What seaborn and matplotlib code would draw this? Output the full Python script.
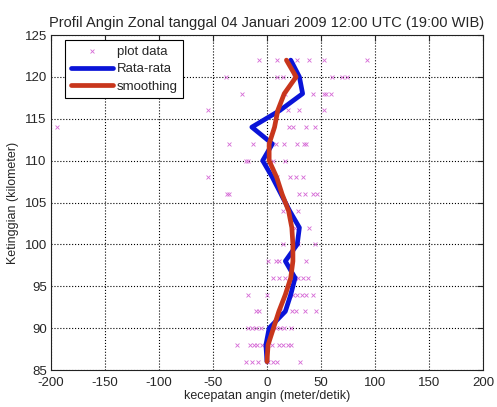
import numpy as np
import pandas as pd
import matplotlib
matplotlib.use("Agg")
import matplotlib.pyplot as plt
import seaborn as sns

# --- Data ---
HEIGHTS = [122, 120, 118, 116, 114, 112, 110, 108, 106, 104, 102, 100, 98, 96, 94, 92, 90, 88, 86]

# raw observations (wind speed, m/s) for each height level
RAW_SPEEDS = [
    [-7, 9, 28, 39, 53, 93],
    [-38, 9, 15, 25, 60, 69, 74],
    [-23, 17, 43, 53, 55, 59],
    [-55, 19, 30, 53],
    [-194, 20, 24, 36, 44],
    [-35, -13, 8, 16, 28, 34, 36],
    [-19, -18, 6, 17],
    [-55, 9, 21, 27, 33],
    [-37, -35, 30, 35, 43, 46],
    [15, 29],
    [26, 39],
    [15, 29, 44],
    [1, 8, 11, 36],
    [6, 11, 17, 26, 29, 33, 38],
    [-18, 0, 21, 24, 28, 32, 36, 43],
    [-10, -7, 12, 23, 27, 35, 45],
    [-18, -14, -10, -6, 8, 12, 16, 22],
    [-28, -16, -12, -9, -5, 5, 11, 15, 19, 22],
    [-19, -14, -8, 1, 6, 9, 31],
]

MEAN_SPEED = [22, 30, 33, 12, -14, 5, -4, 5, 13, 21, 30, 28, 17, 26, 22, 17, 2, -1, 0]
SMOOTH_SPEED = [18, 27, 16, 10, 7, 2, 2, 9, 14, 20, 23, 24, 24, 22, 17, 11, 6, 1, 0]

X_TICKS = [-200, -150, -100, -50, 0, 50, 100, 150, 200]
Y_TICKS = [85, 90, 95, 100, 105, 110, 115, 120, 125]

TITLE = "Profil Angin Zonal tanggal 04 Januari 2009 12:00 UTC (19:00 WIB)"

sns.set_style("white")
plt.rcParams['font.family'] = ['Liberation Sans', 'DejaVu Sans']
plt.rcParams['axes.unicode_minus'] = False

# long-form table of the raw points
raw_df = pd.DataFrame(
    [(s, h) for h, row in zip(HEIGHTS, RAW_SPEEDS) for s in row],
    columns=['speed', 'height'])
prof_df = pd.DataFrame({'height': HEIGHTS, 'mean': MEAN_SPEED, 'smooth': SMOOTH_SPEED})

fig = plt.figure(figsize=(4.97, 4.07), dpi=100)
ax = fig.add_axes([0.1026, 0.0909, 0.8692, 0.8231])

sns.scatterplot(data=raw_df, x='speed', y='height', ax=ax, marker='x',
                color='#d66ad6', s=8, linewidth=0.6, label='plot data', zorder=2)
sns.lineplot(data=prof_df, x='mean', y='height', ax=ax, orient='y', estimator=None,
             color='#0a14d8', linewidth=3.4, label='Rata-rata', zorder=3)
sns.lineplot(data=prof_df, x='smooth', y='height', ax=ax, orient='y', estimator=None,
             color='#c8361c', linewidth=3.4, label='smoothing', zorder=4)

ax.set_xlim(-200, 200)
ax.set_ylim(85, 125)
ax.set_xticks(X_TICKS)
ax.set_yticks(Y_TICKS)
ax.tick_params(direction='in', top=True, right=True, labelsize=9.5, length=4, width=0.8, pad=3)
ax.tick_params(axis='x', pad=5)
ax.grid(True, linestyle=':', color='black', linewidth=0.8)
for sp in ax.spines.values():
    sp.set_color('#222222')
    sp.set_linewidth(0.8)

ax.set_title(TITLE, fontsize=10.5, pad=6)
ax.set_xlabel('kecepatan angin (meter/detik)', fontsize=9, labelpad=1)
ax.set_ylabel('Ketinggian (kilometer)', fontsize=9, labelpad=4)

leg = ax.legend(loc='upper left', bbox_to_anchor=(0.033, 0.985), fontsize=9.5,
                fancybox=False, framealpha=1, edgecolor='black',
                handlelength=3.2, handletextpad=0.3, borderpad=0.4,
                labelspacing=0.42, borderaxespad=0)
leg.get_frame().set_linewidth(0.8)

fig.savefig('out.png', dpi=100)
